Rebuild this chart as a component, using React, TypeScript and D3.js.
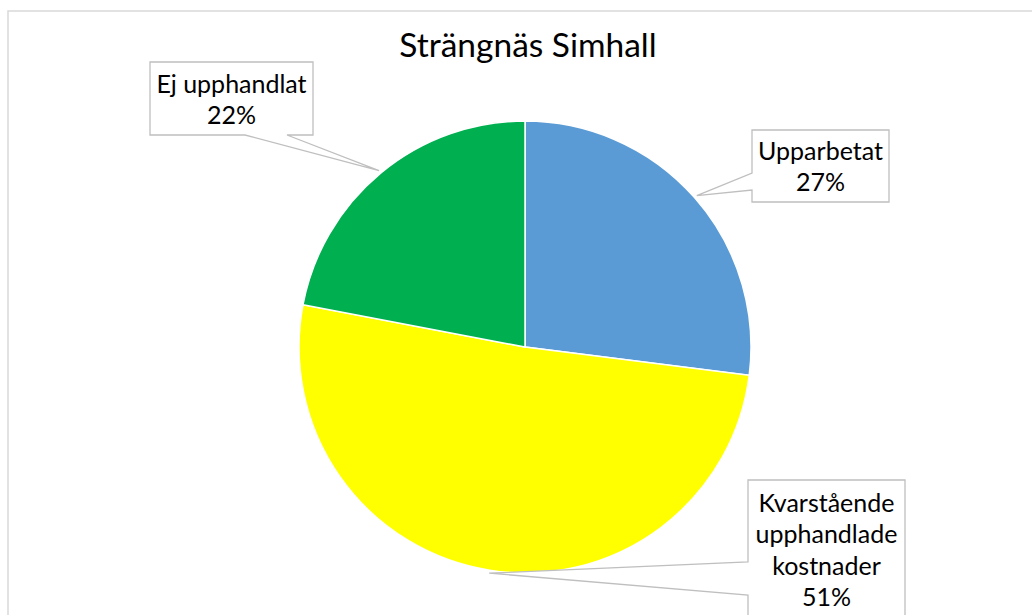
import React from 'react';
import * as d3 from 'd3';

const categories = ['Upparbetat', 'Kvarstående upphandlade kostnader', 'Ej upphandlat'];
const values = [27, 51, 22];
const colors = ['#5B9BD5', '#FFFF00', '#00B050'];
const labelLines = [['Upparbetat', '27%'], ['Kvarstående', 'upphandlade', 'kostnader', '51%'], ['Ej upphandlat', '22%']];
const title = 'Strängnäs Simhall';

const width = 1032;
const height = 615;
const cx = 525;
const cy = 347;
const radius = 226;
const font = 'Lato, "Open Sans", sans-serif';
const lineH = 31.5;

// callout boxes: x0, y0, x1, y1 and where the pointer leaves the box
type Box = { x0: number; y0: number; x1: number; y1: number; side: 'left' | 'bottom'; a: number; b: number; textY: number };
const boxes: Box[] = [
  { x0: 752, y0: 130, x1: 889, y1: 202, side: 'left', a: 173, b: 190, textY: 151 },
  { x0: 748, y0: 480, x1: 905, y1: 650, side: 'left', a: 562, b: 595, textY: 503 },
  { x0: 150, y0: 62, x1: 313, y1: 135, side: 'bottom', a: 245, b: 287, textY: 84 },
];

const App = () => {
  const pie = d3.pie<number>().sort(null).value(d => d);
  const arcs = pie(values);
  const arc = d3.arc<d3.PieArcDatum<number>>().innerRadius(0).outerRadius(radius);

  const calloutPath = (bx: Box, p: [number, number]) => {
    const [px, py] = p;
    if (bx.side === 'left') {
      return `M${bx.x0},${bx.y0}H${bx.x1}V${bx.y1}H${bx.x0}V${bx.b}L${px},${py}L${bx.x0},${bx.a}Z`;
    }
    return `M${bx.x0},${bx.y0}H${bx.x1}V${bx.y1}H${bx.b}L${px},${py}L${bx.a},${bx.y1}H${bx.x0}Z`;
  };

  return (
    <svg width={width} height={height} style={{ position: 'absolute', left: 0, top: 0, background: '#fff' }}>
      <rect x={8} y={11} width={width + 20} height={height + 20} fill="#fff" stroke="#d9d9d9" strokeWidth={1.5} />
      <text x={cx + 3} y={57} textAnchor="middle" fontFamily={font} fontSize={33.5} fill="#000">
        {title}
      </text>
      <g transform={`translate(${cx},${cy})`}>
        {arcs.map((d, i) => (
          <path key={categories[i]} d={arc(d) || ''} fill={colors[i]} stroke="#fff" strokeWidth={1.5} />
        ))}
      </g>
      {arcs.map((d, i) => {
        const mid = (d.startAngle + d.endAngle) / 2;
        const r = radius + 3;
        const p: [number, number] = [cx + r * Math.sin(mid), cy - r * Math.cos(mid)];
        const bx = boxes[i];
        const tx = (bx.x0 + bx.x1) / 2;
        return (
          <g key={'lbl' + i}>
            <path d={calloutPath(bx, p)} fill="#fff" stroke="#bfbfbf" strokeWidth={1.3} />
            {labelLines[i].map((t, j) => (
              <text key={j} x={tx} y={bx.textY + j * lineH} dy="0.35em" textAnchor="middle" fontFamily={font} fontSize={25} fill="#000">
                {t}
              </text>
            ))}
          </g>
        );
      })}
    </svg>
  );
};

export default App;
